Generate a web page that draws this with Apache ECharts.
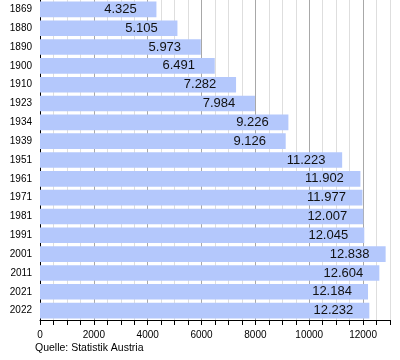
<!DOCTYPE html>
<html>
<head>
<meta charset="utf-8">
<script src="https://cdn.jsdelivr.net/npm/echarts@6/dist/echarts.min.js"></script>
<style>html,body{margin:0;padding:0;background:#fff}#c{width:400px;height:360px}</style>
</head>
<body>
<div id="c"></div>
<script>
const years = ['1869','1880','1890','1900','1910','1923','1934','1939','1951','1961','1971','1981','1991','2001','2011','2021','2022'];
const population = [4325,5105,5973,6491,7282,7984,9226,9126,11223,11902,11977,12007,12045,12838,12604,12184,12232];
const xTickLabels = ['0','2000','4000','6000','8000','10000','12000'];
const sourceText = 'Quelle: Statistik Austria';

const chart = echarts.init(document.getElementById('c'), null, {renderer:'canvas'});
const fmt = v => { const s = String(v); return s.slice(0, s.length-3) + '.' + s.slice(-3); };
chart.setOption({
  animation:false,
  textStyle:{fontFamily:'Liberation Sans, Arial, sans-serif'},
  grid:{left:40,right:10,top:-2,bottom:40,containLabel:false},
  xAxis:{
    type:'value', min:0, max:13000, interval:500,
    axisLine:{show:true,lineStyle:{color:'#000',width:1}},
    axisTick:{show:true,length:5,lineStyle:{color:'#000'}},
    axisLabel:{color:'#000',fontSize:10,margin:10,
      formatter: v => xTickLabels.includes(String(v)) ? String(v) : ''},
    splitLine:{show:true,lineStyle:{color:['#a8a8a8','#dedede','#dedede','#dedede'],width:1}}
  },
  yAxis:{
    type:'category', data:years, inverse:true,
    axisLine:{show:true,lineStyle:{color:'#000',width:1}},
    axisTick:{show:false},
    axisLabel:{color:'#000',fontSize:10,margin:8}
  },
  series:[{
    type:'bar', data:population, barCategoryGap:'17%',
    itemStyle:{color:'#b4c8fc'},
    label:{show:true,position:'insideRight',align:'center',distance:36,
      fontSize:13,color:'#111',formatter:p=>fmt(p.value)}
  }],
  graphic:[{type:'text',left:35,top:343,style:{text:sourceText,fontSize:10.5,fill:'#000',fontFamily:'Liberation Sans, Arial, sans-serif'}}]
});
</script>
</body>
</html>
